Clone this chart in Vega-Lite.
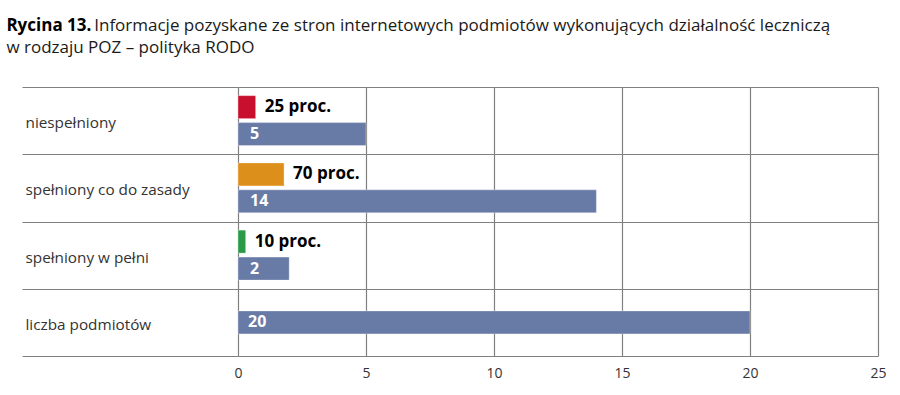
{
  "$schema": "https://vega.github.io/schema/vega-lite/v6.json",
  "width": 640,
  "height": 269,
  "autosize": {"type": "none"},
  "padding": {"left": 238, "top": 87, "right": 22, "bottom": 39},
  "background": "white",
  "config": {"view": {"stroke": null}, "font": "Open Sans"},
  "title": {
    "text": "Rycina 13.",
    "subtitle": ["\u200b\u2003\u2003\u2003\u2003\u2003\u2009Informacje pozyskane ze stron internetowych podmiotów wykonujących działalność leczniczą", "w rodzaju POZ – polityka RODO"],
    "anchor": "start",
    "frame": "bounds",
    "font": "Open Sans",
    "fontSize": 17,
    "fontWeight": "bold",
    "color": "#000000",
    "subtitleFont": "Open Sans",
    "subtitleFontSize": 17,
    "subtitleFontWeight": "normal",
    "subtitleColor": "#1a1a1a",
    "subtitleLineHeight": 22,
    "subtitlePadding": -17,
    "offset": 23,
    "dx": -15
  },
  "data": {
    "values": [
      {"kategoria": "niespełniony", "typ": "odsetek", "seria": "odsetek – niespełniony", "wartosc": 0.69, "etykieta": "25 proc."},
      {"kategoria": "niespełniony", "typ": "liczba", "seria": "liczba", "wartosc": 5, "etykieta": "5"},
      {"kategoria": "spełniony co do zasady", "typ": "odsetek", "seria": "odsetek – spełniony co do zasady", "wartosc": 1.8, "etykieta": "70 proc."},
      {"kategoria": "spełniony co do zasady", "typ": "liczba", "seria": "liczba", "wartosc": 14, "etykieta": "14"},
      {"kategoria": "spełniony w pełni", "typ": "odsetek", "seria": "odsetek – spełniony w pełni", "wartosc": 0.3, "etykieta": "10 proc."},
      {"kategoria": "spełniony w pełni", "typ": "liczba", "seria": "liczba", "wartosc": 2, "etykieta": "2"},
      {"kategoria": "liczba podmiotów", "typ": "suma", "seria": "liczba", "wartosc": 20, "etykieta": "20"}
    ]
  },
  "encoding": {
    "y": {
      "field": "kategoria",
      "type": "nominal",
      "title": null,
      "scale": {"domain": ["niespełniony", "spełniony co do zasady", "spełniony w pełni", "liczba podmiotów"], "paddingInner": 0, "paddingOuter": 0},
      "axis": {
        "tickBand": "extent",
        "tickSize": 216,
        "tickColor": "#808080",
        "tickWidth": 1.2,
        "grid": true,
        "gridColor": "#808080",
        "gridWidth": 1.2,
        "domain": false,
        "labelAlign": "left",
        "labelPadding": -3,
        "labelOffset": 2,
        "labelFont": "Open Sans",
        "labelFontSize": 15.3,
        "labelColor": "#333333",
        "labelLimit": 0
      }
    }
  },
  "layer": [
    {
      "transform": [{"filter": "datum.typ !== 'suma'"}],
      "mark": {"type": "bar", "stroke": "white", "strokeOpacity": 0.35, "strokeWidth": 1},
      "encoding": {
        "x": {
          "field": "wartosc",
          "type": "quantitative",
          "title": null,
          "scale": {"domain": [0, 25], "nice": false},
          "axis": {
            "values": [0, 5, 10, 15, 20, 25],
            "grid": true,
            "gridColor": "#808080",
            "gridWidth": 1.2,
            "ticks": false,
            "domain": false,
            "labelFlush": false,
            "labelFont": "Open Sans",
            "labelFontSize": 14,
            "labelColor": "#333333",
            "labelPadding": 10
          }
        },
        "yOffset": {"field": "typ", "type": "nominal", "scale": {"domain": ["odsetek", "liczba"], "paddingInner": 0.148, "paddingOuter": 0.32}},
        "color": {
          "field": "seria",
          "type": "nominal",
          "legend": null,
          "scale": {
            "domain": ["odsetek – niespełniony", "odsetek – spełniony co do zasady", "odsetek – spełniony w pełni", "liczba"],
            "range": ["#c8102e", "#dd8f1c", "#2a9a48", "#687aa6"]
          }
        }
      }
    },
    {
      "transform": [{"filter": "datum.typ === 'suma'"}],
      "mark": {"type": "bar", "height": 23, "stroke": "white", "strokeOpacity": 0.35, "strokeWidth": 1},
      "encoding": {
        "x": {"field": "wartosc", "type": "quantitative"},
        "color": {"field": "seria", "type": "nominal", "legend": null}
      }
    },
    {
      "transform": [{"filter": "datum.typ === 'odsetek'"}],
      "mark": {"type": "text", "align": "left", "baseline": "middle", "dx": 9, "font": "Open Sans", "fontSize": 17, "fontWeight": "bold", "color": "#000000"},
      "encoding": {
        "x": {"field": "wartosc", "type": "quantitative"},
        "yOffset": {"field": "typ", "type": "nominal"},
        "text": {"field": "etykieta"}
      }
    },
    {
      "transform": [{"filter": "datum.typ === 'liczba'"}],
      "mark": {"type": "text", "align": "left", "baseline": "middle", "dx": 12, "font": "Open Sans", "fontSize": 16, "fontWeight": "bold", "color": "#ffffff"},
      "encoding": {
        "x": {"datum": 0},
        "yOffset": {"field": "typ", "type": "nominal"},
        "text": {"field": "etykieta"}
      }
    },
    {
      "transform": [{"filter": "datum.typ === 'suma'"}],
      "mark": {"type": "text", "align": "left", "baseline": "middle", "dx": 10, "font": "Open Sans", "fontSize": 16, "fontWeight": "bold", "color": "#ffffff"},
      "encoding": {
        "x": {"datum": 0},
        "text": {"field": "etykieta"}
      }
    }
  ]
}
